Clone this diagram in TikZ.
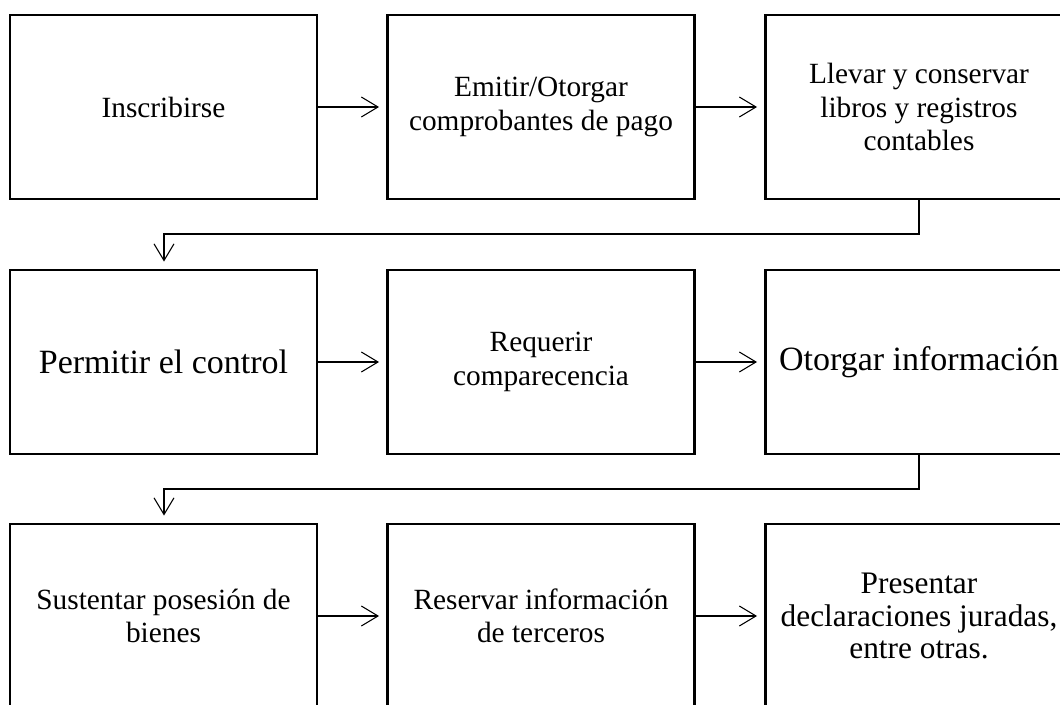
\documentclass[tikz,border=0pt]{standalone}
\usepackage{fontspec}
\setmainfont{Liberation Serif}
\usetikzlibrary{arrows.meta}
\begin{document}
\begin{tikzpicture}[x=0.75pt,y=-0.75pt,
  stepbox/.style={draw, line width=1.7pt, minimum width=307*0.75pt, minimum height=184*0.75pt,
    inner sep=0pt, align=center, font=\fontsize{22pt}{25pt}\selectfont},
  bigtext/.style={font=\fontsize{25.5pt}{28pt}\selectfont},
  midtext/.style={font=\fontsize{23.5pt}{24.5pt}\selectfont},
  arr/.style={line width=0.8pt, -{Straight Barb[length=12.5pt,width=15pt,line width=0.8pt]}, shorten >=5.5pt}]
\useasboundingbox (0,0) rectangle (1060,704);
\clip (0,0) rectangle (1060,704);
\node[stepbox] (b1) at (163.5,107) {Inscribirse};
\node[stepbox] (b2) at (541,107) {Emitir/Otorgar\\comprobantes de pago};
\node[stepbox] (b3) at (919,107) {Llevar y conservar\\libros y registros\\contables};
\node[stepbox,bigtext] (b4) at (163.5,362) {Permitir el control};
\node[stepbox] (b5) at (541,362) {Requerir\\comparecencia};
\node[stepbox,bigtext] (b6) at (919,362) {Otorgar información};
\node[stepbox] (b7) at (163.5,616) {Sustentar posesión de\\bienes};
\node[stepbox] (b8) at (541,616) {Reservar información\\de terceros};
\node[stepbox,midtext] (b9) at (919,616) {Presentar\\declaraciones juradas,\\entre otras.};
\draw[arr] (b1.east) -- (b2.west);
\draw[arr] (b2.east) -- (b3.west);
\draw[arr] (b4.east) -- (b5.west);
\draw[arr] (b5.east) -- (b6.west);
\draw[arr] (b7.east) -- (b8.west);
\draw[arr] (b8.east) -- (b9.west);
\coordinate (c1) at (919,234);
\coordinate (c2) at (164,234);
\draw[arr] (b3.south) -- (c1) -- (c2) -- (b4.north -| c2);
\coordinate (c3) at (919,489);
\coordinate (c4) at (164,489);
\draw[arr] (b6.south) -- (c3) -- (c4) -- (b7.north -| c4);
\end{tikzpicture}
\end{document}
